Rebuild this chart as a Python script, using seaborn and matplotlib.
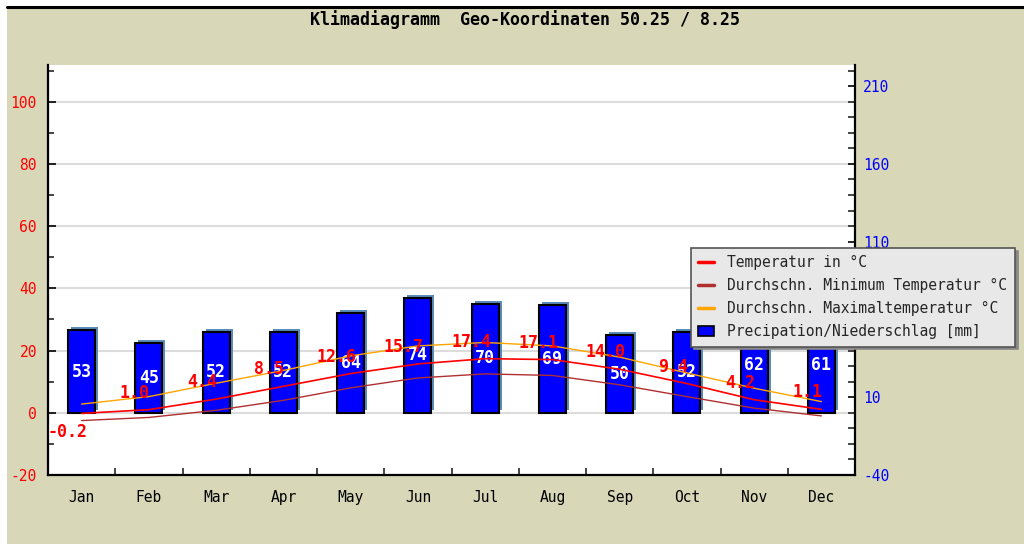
import numpy as np
import pandas as pd
import matplotlib
matplotlib.use("Agg")
import matplotlib.pyplot as plt
import seaborn as sns
from matplotlib.lines import Line2D
from matplotlib.patches import Patch, Rectangle
from matplotlib.ticker import MultipleLocator, FixedLocator, NullFormatter
from matplotlib.transforms import ScaledTranslation

# Monatswerte
months = ["Jan", "Feb", "Mar", "Apr", "May", "Jun",
          "Jul", "Aug", "Sep", "Oct", "Nov", "Dec"]
precip = [53, 45, 52, 52, 64, 74, 70, 69, 50, 52, 62, 61]
temp = [-0.2, 1.0, 4.4, 8.5, 12.6, 15.7, 17.4, 17.1, 14.0, 9.4, 4.2, 1.1]
temp_min = [-2.5, -1.5, 0.8, 4.0, 8.0, 11.2, 12.5, 12.0, 9.0, 5.2, 1.5, -1.0]
temp_max = [2.8, 5.2, 9.5, 13.6, 18.3, 21.5, 22.6, 21.5, 17.9, 12.8, 7.9, 3.6]

title = "Klimadiagramm  Geo-Koordinaten 50.25 / 8.25"

df = pd.DataFrame({
    "pos": np.arange(len(months)),
    "Monat": months,
    "Niederschlag": precip,
    "Temperatur": temp,
    "TMin": temp_min,
    "TMax": temp_max,
})

sns.set_theme(style="white")
plt.rcParams["font.family"] = ["DejaVu Sans Mono"]
plt.rcParams["axes.unicode_minus"] = False

BG = "#d8d8b8"
fig = plt.figure(figsize=(10.24, 5.44), dpi=100)
fig.patch.set_facecolor("white")
fig.add_artist(Rectangle((7 / 1024, 0), 1 - 7 / 1024, 1 - 8 / 544,
                         transform=fig.transFigure, facecolor=BG,
                         edgecolor="none", zorder=-10))
fig.add_artist(Line2D([7 / 1024, 1], [1 - 6.5 / 544] * 2,
                      transform=fig.transFigure, color="black", lw=2.2))

ax = fig.add_axes([48 / 1024, 69 / 544, 807 / 1024, 410 / 544])
ax.set_facecolor("white")
ax2 = ax.twinx()   # Niederschlag (rechts)
ax3 = ax.twinx()   # Temperaturlinien ueber den Balken

# Balken mit Schatten (nach rechts oben versetzt)
sns.barplot(data=df, x="pos", y="Niederschlag", native_scale=True, width=0.4,
            color="#5a8cbc", saturation=1, errorbar=None, linewidth=0, ax=ax2)
shift = ScaledTranslation(0.03, 0.03, fig.dpi_scale_trans)
for p in ax2.containers[0]:
    p.set_transform(ax2.transData + shift)
sns.barplot(data=df, x="pos", y="Niederschlag", native_scale=True, width=0.4,
            color="#0000ff", saturation=1, errorbar=None,
            edgecolor="black", linewidth=1.5, ax=ax2)
ax2.bar_label(ax2.containers[1], labels=[str(v) for v in precip],
              label_type="center", color="white", fontsize=12,
              fontweight="bold")

# Temperaturlinien
sns.lineplot(data=df, x="pos", y="TMin", color="#b03030", lw=1.0, ax=ax3)
sns.lineplot(data=df, x="pos", y="TMax", color="#ffa500", lw=1.0, ax=ax3)
sns.lineplot(data=df, x="pos", y="Temperatur", color="#ff0000", lw=1.2, ax=ax3)
for i, v in enumerate(temp):
    dy = 17 if v >= 0 else -19
    ax3.annotate(f"{v:.1f}", (i, v), xytext=(-14, dy), textcoords="offset pixels",
                 ha="center", va="center", color="#ff0000", fontsize=12,
                 fontweight="bold")

# Achsen
ax.set_xlim(-0.5, 11.5)
ax.set_ylim(-20, 111.8)
ax2.set_ylim(-40, 223.6)
ax3.set_ylim(ax.get_ylim())
ax3.axis("off")

ax.yaxis.set_major_locator(MultipleLocator(20))
ax.yaxis.set_minor_locator(MultipleLocator(10))
ax.tick_params(axis="y", which="major", direction="in", length=6, width=1.2,
               colors="black", labelcolor="#ff0000", labelsize=10.5, pad=8,
               left=True, right=False)
ax.tick_params(axis="y", which="minor", direction="in", length=4, width=1.2,
               left=True, right=False)

ax2.yaxis.set_major_locator(MultipleLocator(50, offset=10))
ax2.yaxis.set_minor_locator(MultipleLocator(10))
ax2.tick_params(axis="y", which="major", direction="in", length=5, width=1.2,
                colors="black", labelcolor="#0000ff", labelsize=10.5, pad=6)
ax2.tick_params(axis="y", which="minor", direction="in", length=5, width=1.2)

ax.xaxis.set_major_locator(FixedLocator(np.arange(0.5, 11, 1)))
ax.xaxis.set_major_formatter(NullFormatter())
ax.xaxis.set_minor_locator(FixedLocator(df["pos"]))
ax.set_xticklabels(months, minor=True)
ax.tick_params(axis="x", which="major", direction="in", length=5, width=1.2,
               bottom=True)
ax.tick_params(axis="x", which="minor", length=0, labelsize=10.5, pad=11,
               labelcolor="black")

ax.yaxis.grid(True, which="major", color="#dcdcdc", lw=1.5)
ax.xaxis.grid(False)
ax.set_axisbelow(True)

for a in (ax, ax2):
    a.set_xlabel("")
    a.set_ylabel("")
for s in ("top", "right"):
    ax.spines[s].set_visible(False)
for s in ("top", "left", "bottom"):
    ax2.spines[s].set_visible(False)
for s, a in (("left", ax), ("bottom", ax), ("right", ax2)):
    a.spines[s].set_color("black")
    a.spines[s].set_linewidth(1.6)

# Titel
fig.text(525 / 1024, 1 - 20 / 544, title, ha="center", va="center",
         fontsize=12, fontweight="bold", color="black")

# Legende
handles = [
    Line2D([], [], color="#ff0000", lw=2.5),
    Line2D([], [], color="#b03030", lw=2.5),
    Line2D([], [], color="#ffa500", lw=2.5),
    Patch(facecolor="#0000ff", edgecolor="black", lw=1.2),
]
labels = ["Temperatur in °C", "Durchschn. Minimum Temperatur °C",
          "Durchschn. Maximaltemperatur °C", "Precipation/Niederschlag [mm]"]
leg = fig.legend(handles, labels, loc="upper left",
                 bbox_to_anchor=(691 / 1024, 1 - 248 / 544),
                 bbox_transform=fig.transFigure, fontsize=10.5,
                 frameon=True, fancybox=False, framealpha=1,
                 facecolor="#e8e8e8", edgecolor="#555555",
                 shadow={"color": "#888888", "alpha": 1},
                 borderaxespad=0, borderpad=0.5, handlelength=1.1,
                 handletextpad=0.9, labelspacing=0.55)
leg.get_frame().set_linewidth(1.2)

fig.savefig("out.png", dpi=100, facecolor=fig.get_facecolor())
